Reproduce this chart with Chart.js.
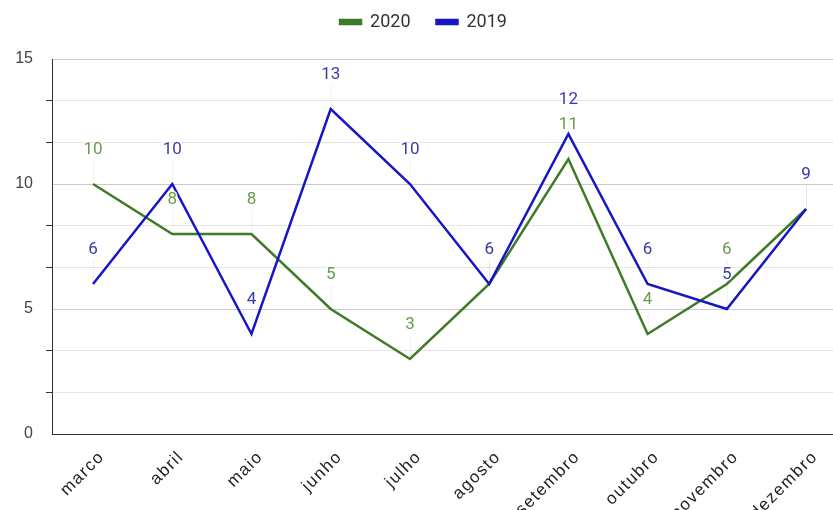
<!DOCTYPE html>
<html>
<head>
<meta charset="utf-8">
<script src="https://cdn.jsdelivr.net/npm/chart.js@4.4.1/dist/chart.umd.min.js"></script>
<style>
  html, body { margin: 0; padding: 0; background: #fff; }
  canvas { display: block; }
</style>
</head>
<body>
<canvas id="chart" width="833" height="510"></canvas>
<script>
// Meses e valores por ano
const months = ['marco', 'abril', 'maio', 'junho', 'julho', 'agosto', 'setembro', 'outubro', 'novembro', 'dezembro']
const values2020 = [10, 8, 8, 5, 3, 6, 11, 4, 6, 9]
const values2019 = [6, 10, 4, 13, 10, 6, 12, 6, 5, 9]
const yTicks = [0, 5, 10, 15]

const GREEN = '#3f7a27'
const BLUE = '#1616c6'

const isMajor = v => Math.abs(v / 5 - Math.round(v / 5)) < 1e-6

// Value labels above each point, with a faint leader line
const pointLabels = {
  id: 'pointLabels',
  afterDatasetsDraw(chart) {
    const ctx = chart.ctx
    ctx.save()
    ctx.font = '17px Roboto, sans-serif'
    ctx.textAlign = 'center'
    ctx.textBaseline = 'middle'
    chart.data.datasets.forEach((ds, i) => {
      const meta = chart.getDatasetMeta(i)
      meta.data.forEach((pt, j) => {
        const x = pt.x, y = pt.y
        ctx.strokeStyle = 'rgba(0,0,0,0.06)'
        ctx.lineWidth = 1
        ctx.beginPath()
        ctx.moveTo(x + 0.5, y - 3)
        ctx.lineTo(x + 0.5, y - 24)
        ctx.stroke()
        const text = String(ds.data[j].y)
        ctx.lineWidth = 3
        ctx.strokeStyle = 'rgba(255,255,255,0.8)'
        ctx.strokeText(text, x, y - 34)
        ctx.fillStyle = ds.labelColor
        ctx.fillText(text, x, y - 34)
      })
    })
    ctx.restore()
  }
}

// Fixed legend band height, items nudged into place
const legendHeight = {
  id: 'legendHeight',
  beforeInit(chart) {
    const legend = chart.legend
    const fit = legend.fit
    legend.fit = function () {
      fit.call(this)
      this.height = 59
    }
    const draw = legend.draw
    legend.draw = function () {
      const ctx = this.ctx
      ctx.save()
      ctx.translate(7, -13)
      draw.call(this)
      ctx.restore()
    }
  }
}

// Wider letter spacing for the month labels only
const spacedMonths = {
  id: 'spacedMonths',
  afterUpdate(chart) {
    const scale = chart.scales.x
    if (scale._spaced) return
    const drawLabels = scale.drawLabels
    scale.drawLabels = function (area) {
      const ctx = this.ctx
      ctx.save()
      ctx.letterSpacing = '1.5px'
      drawLabels.call(this, area)
      ctx.restore()
    }
    scale._spaced = true
  }
}

new Chart(document.getElementById('chart'), {
  type: 'line',
  data: {
    datasets: [
      {
        label: '2020',
        data: months.map((m, i) => ({ x: i, y: values2020[i] })),
        borderColor: GREEN,
        backgroundColor: GREEN,
        labelColor: '#6a9a4c',
        borderWidth: 2.5,
        pointRadius: 0,
        tension: 0,
        order: 1
      },
      {
        label: '2019',
        data: months.map((m, i) => ({ x: i, y: values2019[i] })),
        borderColor: BLUE,
        backgroundColor: BLUE,
        labelColor: '#3a3aae',
        borderWidth: 2.5,
        pointRadius: 0,
        tension: 0,
        order: 0
      }
    ]
  },
  options: {
    responsive: false,
    animation: false,
    layout: { padding: { left: 0, right: 0, top: 0, bottom: 0 } },
    plugins: {
      legend: {
        position: 'top',
        align: 'center',
        labels: {
          boxWidth: 21,
          boxHeight: 4,
          padding: 26,
          color: '#333',
          font: { family: 'Roboto, sans-serif', size: 18 },
          sort: (a, b) => a.datasetIndex - b.datasetIndex
        }
      },
      tooltip: { enabled: false }
    },
    scales: {
      x: {
        type: 'linear',
        min: -0.518,
        max: 9.34,
        afterBuildTicks(scale) {
          scale.ticks = months.map((m, i) => ({ value: i }))
        },
        afterFit(scale) {
          scale.height = 76
          scale.paddingLeft = 0
          scale.paddingRight = 0
        },
        grid: { display: false, drawTicks: false },
        border: { display: true, color: '#333', width: 1 },
        ticks: {
          autoSkip: false,
          maxRotation: 45,
          minRotation: 45,
          padding: 13,
          labelOffset: 9,
          color: '#222',
          font: { family: 'Liberation Sans, Arial, sans-serif', size: 17 },
          callback: v => months[v]
        }
      },
      y: {
        min: 0,
        max: 15,
        afterBuildTicks(scale) {
          const ticks = []
          for (let k = 0; k <= 9; k++) ticks.push({ value: k * 5 / 3 })
          scale.ticks = ticks
        },
        afterFit(scale) {
          scale.width = 52
        },
        grid: {
          color: ctx => isMajor(ctx.tick.value) ? '#cccccc' : '#e6e6e6',
          tickColor: ctx => isMajor(ctx.tick.value) ? 'rgba(0,0,0,0)' : '#333',
          tickLength: 6,
          drawTicks: true
        },
        border: { display: true, color: '#333', width: 1 },
        ticks: {
          padding: 13,
          color: '#444',
          font: { family: 'Liberation Sans, Arial, sans-serif', size: 16 },
          callback: v => (isMajor(v) && yTicks.includes(Math.round(v))) ? String(Math.round(v)) : ''
        }
      }
    }
  },
  plugins: [pointLabels, legendHeight, spacedMonths]
})
</script>
</body>
</html>
